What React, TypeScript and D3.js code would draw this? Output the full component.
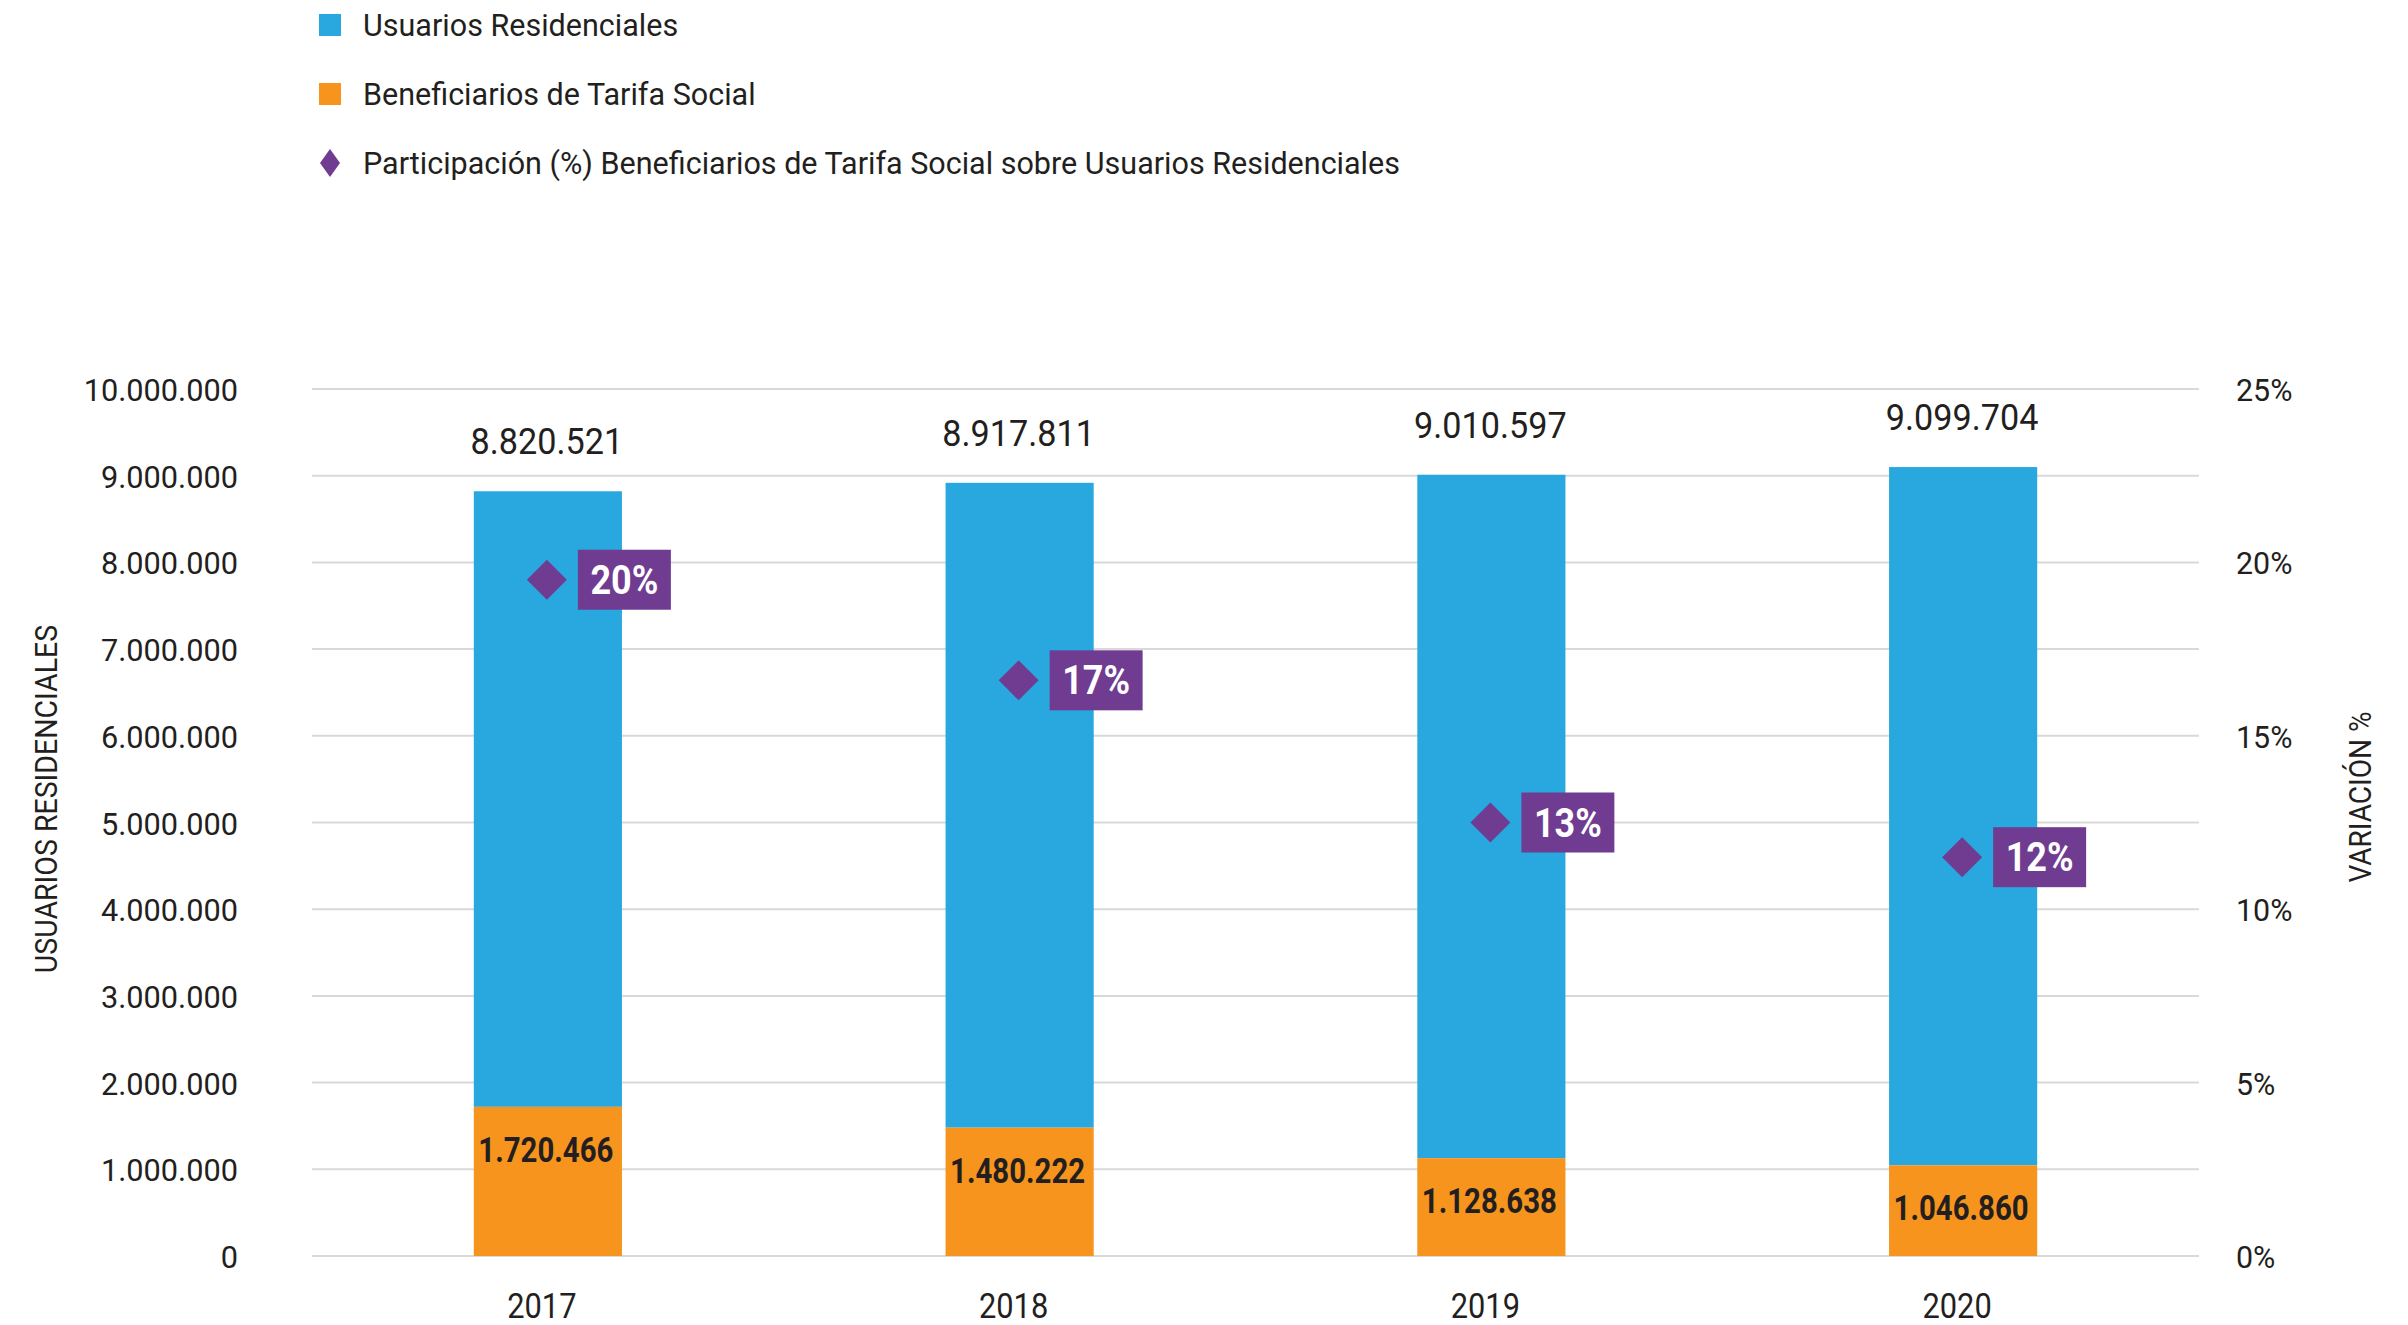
import React from "react";
import * as d3 from "d3";

const years = ["2017", "2018", "2019", "2020"];
const residenciales = [8820521, 8917811, 9010597, 9099704];
const beneficiarios = [1720466, 1480222, 1128638, 1046860];
const participacion = [0.195, 0.166, 0.125, 0.115];
const participacionLabels = ["20%", "17%", "13%", "12%"];
const leftTicks = [0, 1000000, 2000000, 3000000, 4000000, 5000000, 6000000, 7000000, 8000000, 9000000, 10000000];
const rightTicks = [0, 0.05, 0.1, 0.15, 0.2, 0.25];
const legendItems = [
  "Usuarios Residenciales",
  "Beneficiarios de Tarifa Social",
  "Participación (%) Beneficiarios de Tarifa Social sobre Usuarios Residenciales",
];

const W = 2408;
const H = 1325;
const BLUE = "#29A8E0";
const ORANGE = "#F7941D";
const PURPLE = "#6F3C91";
const TEXT = "#231F20";
const GRID = "#D9D9D9";
const FONT = "Roboto, sans-serif";

const fmt = (v: number) => d3.format(",")(v).replace(/,/g, ".");

function CText({ x, y, sx = 0.88, rotate = 0, anchor = "start", size, weight = 400, fill = TEXT, children }: any) {
  return (
    <text
      transform={`translate(${x},${y}) rotate(${rotate}) scale(${sx},1)`}
      textAnchor={anchor}
      fontSize={size}
      fontWeight={weight}
      fill={fill}
      fontFamily={FONT}
    >
      {children}
    </text>
  );
}

export default function App() {
  const plotLeft = 312;
  const plotRight = 2199;
  const yTop = 389;
  const yBottom = 1256;

  const x = d3.scaleBand<string>().domain(years).range([plotLeft, plotRight]).paddingInner(0).paddingOuter(0);
  const y = d3.scaleLinear().domain([0, 10000000]).range([yBottom, yTop]);
  const yR = d3.scaleLinear().domain([0, 0.25]).range([yBottom, yTop]);
  const barW = x.bandwidth() * 0.314;
  const dHalf = 20;

  return (
    <svg width={W} height={H} style={{ position: "absolute", left: 0, top: 0, background: "#fff" }}>
      <rect x={0} y={0} width={W} height={H} fill="#fff" />
      {/* legend */}
      {legendItems.map((t, i) => {
        const cy = 25 + i * 69;
        return (
          <g key={t}>
            {i < 2 ? (
              <rect x={319} y={cy - 11} width={22} height={22} fill={i === 0 ? BLUE : ORANGE} />
            ) : (
              <path d={`M330,${cy - 14} L340,${cy} L330,${cy + 14} L320,${cy} Z`} fill={PURPLE} />
            )}
            <CText x={363} y={cy + 11} size={31} sx={0.985}>
              {t}
            </CText>
          </g>
        );
      })}

      {/* gridlines */}
      {leftTicks.map((t) => (
        <line key={t} x1={plotLeft} x2={plotRight} y1={y(t)} y2={y(t)} stroke={GRID} strokeWidth={2} />
      ))}

      {/* left ticks */}
      {leftTicks.map((t) => (
        <CText key={t} x={238} y={y(t) + 12} size={32} anchor="end" sx={0.96}>
          {fmt(t)}
        </CText>
      ))}
      {/* right ticks */}
      {rightTicks.map((t) => (
        <CText key={t} x={2236} y={yR(t) + 12} size={32} sx={0.95}>
          {Math.round(t * 100) + "%"}
        </CText>
      ))}

      {/* axis titles */}
      <CText x={57} y={799} size={31} rotate={-90} anchor="middle" sx={0.92}>
        USUARIOS RESIDENCIALES
      </CText>
      <CText x={2371} y={797} size={31} rotate={-90} anchor="middle" sx={0.905}>
        VARIACIÓN %
      </CText>

      {/* bars */}
      {years.map((yr, i) => {
        const cx = x(yr)! + x.bandwidth() / 2;
        return (
          <g key={yr}>
            <rect x={cx - barW / 2} y={y(residenciales[i])} width={barW} height={y(beneficiarios[i]) - y(residenciales[i])} fill={BLUE} />
            <rect x={cx - barW / 2} y={y(beneficiarios[i])} width={barW} height={yBottom - y(beneficiarios[i])} fill={ORANGE} />
            <CText x={cx - 1} y={y(residenciales[i]) - 37} size={36} anchor="middle" sx={0.95}>
              {fmt(residenciales[i])}
            </CText>
            <CText x={cx - 2} y={y(beneficiarios[i]) + 55} size={35} weight={700} anchor="middle" sx={0.84}>
              {fmt(beneficiarios[i])}
            </CText>
            <CText x={cx - 6} y={1318} size={35} anchor="middle">
              {yr}
            </CText>
          </g>
        );
      })}

      {/* diamonds + labels */}
      {years.map((yr, i) => {
        const cx = x(yr)! + x.bandwidth() / 2 - 1;
        const cy = yR(participacion[i]);
        return (
          <g key={"p" + yr}>
            <path d={`M${cx},${cy - dHalf} L${cx + dHalf},${cy} L${cx},${cy + dHalf} L${cx - dHalf},${cy} Z`} fill={PURPLE} />
            <rect x={cx + 31} y={cy - 30} width={93} height={60} fill={PURPLE} />
            <CText x={cx + 77.5} y={cy + 14} size={40} weight={700} anchor="middle" fill="#fff" sx={0.9}>
              {participacionLabels[i]}
            </CText>
          </g>
        );
      })}
    </svg>
  );
}
